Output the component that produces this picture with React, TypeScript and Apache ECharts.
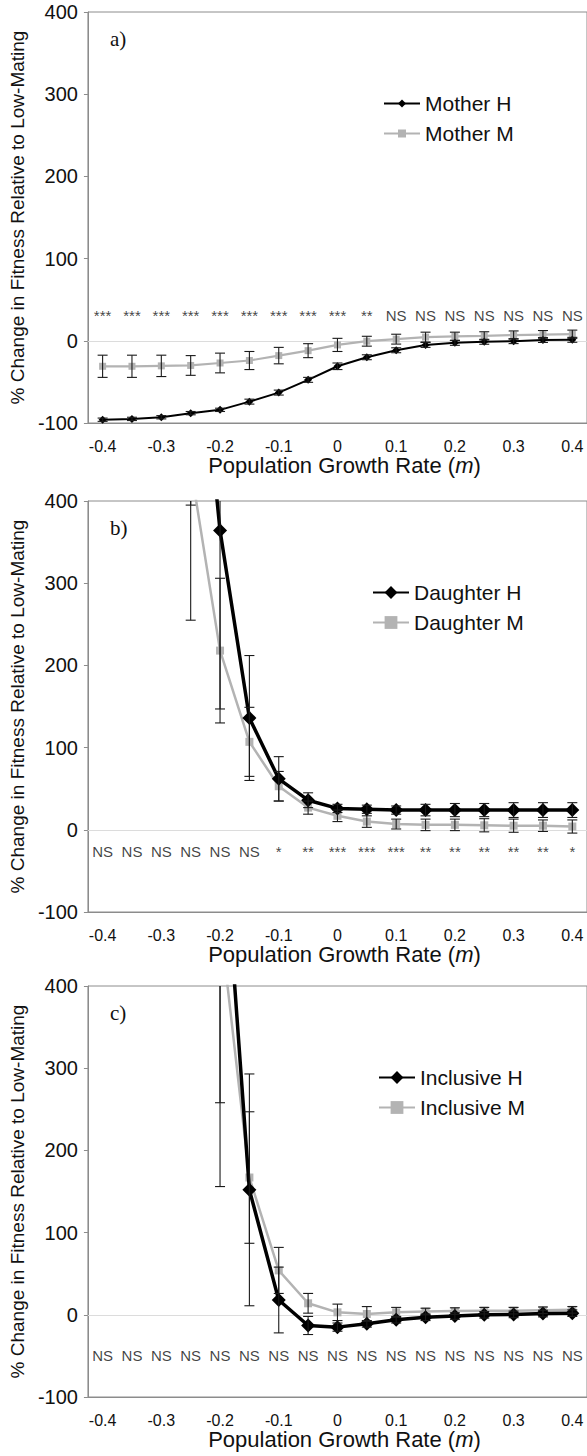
import React, { useEffect, useRef } from "react";
import * as echarts from "echarts";

const xCats = ["-0.4","-0.35","-0.3","-0.25","-0.2","-0.15","-0.1","-0.05","0","0.05","0.1","0.15","0.2","0.25","0.3","0.35","0.4"];

// Panel a) Mother
const motherH = [-96,-95,-93,-88,-84,-74,-63,-47.5,-31,-20,-11.5,-5,-2.5,-1.2,-0.4,1,1.2];
const motherHErr = [2,2,2,2,2,3,3,3,4,3,3,3,3,3,3,3,3];
const motherM = [-31,-31,-30.5,-30,-27,-24,-18,-12,-5,-0.5,2,4.5,5.5,6,7,7.5,8];
const motherMErr = [13.5,13.5,13,12,12,11,10,8.5,8,6,6,6,5,5,5,5,5];
const sigA = ["***","***","***","***","***","***","***","***","***","**","NS","NS","NS","NS","NS","NS","NS"];

// Panel b) Daughter
const daughterH = [null,null,null,724,364,136,62,36,26,25,24,24,24,24,24,24,24];
const daughterHErr = [null,null,null,329,217,76,27,9,5,5,5,7,8,8,9,9,9];
const daughterM = [null,null,null,442,218,107,53,27,17,10,7,6,6,5.5,5,5,4];
const daughterMErr = [null,null,null,187,88,42,18,8,7,7,6,7,7,8,8,7,8];
const sigB = ["NS","NS","NS","NS","NS","NS","*","**","***","***","***","**","**","**","**","**","*"];

// Panel c) Inclusive
const inclH = [null,null,null,null,648,152,18,-13,-15,-11,-6,-3,-1.5,0,0.5,1.5,2];
const inclHErr = [null,null,null,null,390,141,40,11,5,4,4,4,4,4,4,4,4];
const inclM = [null,null,null,null,480,167,54,14,3,1,3,4,4.5,5,5,5.5,6];
const inclMErr = [null,null,null,null,324,80,28,12,10,9,6,4,4,4,4,4,4];
const sigC = ["NS","NS","NS","NS","NS","NS","NS","NS","NS","NS","NS","NS","NS","NS","NS","NS","NS"];

const yTicks = { min: -100, max: 400, interval: 100 };

const FONT = "'Liberation Sans', Arial, sans-serif";
const BLACK = "#000000";
const GRAY = "#b3b3b3";

const panels = [
  { letter: "a)", top: 12, hName: "Mother H", mName: "Mother M", h: motherH, hErr: motherHErr, m: motherM, mErr: motherMErr, sig: sigA, sigY: 31, small: true, legLeft: 378 },
  { letter: "b)", top: 501, hName: "Daughter H", mName: "Daughter M", h: daughterH, hErr: daughterHErr, m: daughterM, mErr: daughterMErr, sig: sigB, sigY: -27, small: false, legLeft: 367 },
  { letter: "c)", top: 986, hName: "Inclusive H", mName: "Inclusive M", h: inclH, hErr: inclHErr, m: inclM, mErr: inclMErr, sig: sigC, sigY: -50, small: false, legLeft: 373 },
];

const PLOT_H = 411;

function errRender(params: any, api: any) {
  const x = api.value(0);
  const lo = api.value(1);
  const hi = api.value(2);
  const pLo = api.coord([x, lo]);
  const pHi = api.coord([x, hi]);
  const w = 5;
  const style = { stroke: "#1a1a1a", lineWidth: 1.1 };
  return {
    type: "group",
    children: [
      { type: "line", shape: { x1: pLo[0], y1: pLo[1], x2: pHi[0], y2: pHi[1] }, style },
      { type: "line", shape: { x1: pLo[0] - w, y1: pLo[1], x2: pLo[0] + w, y2: pLo[1] }, style },
      { type: "line", shape: { x1: pHi[0] - w, y1: pHi[1], x2: pHi[0] + w, y2: pHi[1] }, style },
    ],
  };
}

function errData(vals: (number | null)[], errs: (number | null)[]) {
  const out: any[] = [];
  vals.forEach((v, i) => {
    const e = errs[i];
    if (v !== null && e !== null) out.push([i, v - e, v + e]);
  });
  return out;
}

export default function App() {
  const ref = useRef<HTMLDivElement>(null);
  useEffect(() => {
    if (!ref.current) return;
    const chart = echarts.init(ref.current, undefined, { renderer: "svg" });
    const grid: any[] = [];
    const xAxis: any[] = [];
    const yAxis: any[] = [];
    const series: any[] = [];
    const legend: any[] = [];
    const title: any[] = [];

    panels.forEach((p, k) => {
      grid.push({ left: 84, top: p.top, width: 505, height: PLOT_H, show: true, borderColor: "#8c8c8c", borderWidth: 1, backgroundColor: "transparent" });
      xAxis.push({
        type: "category",
        gridIndex: k,
        data: xCats,
        boundaryGap: true,
        axisLine: { show: true, onZero: false, lineStyle: { color: "#8c8c8c", width: 1 } },
        axisTick: { show: false },
        axisLabel: { interval: 1, fontSize: 16, color: "#111", fontFamily: FONT, margin: 15 },
        splitLine: { show: false },
        name: "Population Growth Rate ({m|m})",
        nameLocation: "middle",
        nameGap: 26,
        nameTextStyle: { fontSize: 22, color: "#111", fontFamily: FONT, padding: [0, 0, 0, 14], rich: { m: { fontSize: 22, fontStyle: "italic", fontFamily: FONT, color: "#111" } } },
      });
      yAxis.push({
        type: "value",
        gridIndex: k,
        min: yTicks.min,
        max: yTicks.max,
        interval: yTicks.interval,
        axisLine: { show: true, lineStyle: { color: "#8c8c8c", width: 1 } },
        axisTick: { show: true, length: 4, lineStyle: { color: "#8c8c8c" } },
        axisLabel: { fontSize: 20, color: "#111", fontFamily: FONT, margin: 10 },
        splitLine: { show: false },
        name: "% Change in Fitness Relative to Low-Mating",
        nameLocation: "middle",
        nameGap: 55,
        nameTextStyle: { fontSize: 19, color: "#111", fontFamily: FONT },
      });
      const hSym = p.small ? 8 : 14;
      const mSym = p.small ? 7 : 8;
      const hW = p.small ? 2 : 3.5;
      const mW = p.small ? 2.2 : 2.5;
      series.push({
        name: p.hName,
        type: "line",
        xAxisIndex: k,
        yAxisIndex: k,
        data: p.h,
        symbol: "diamond",
        symbolSize: hSym,
        lineStyle: { color: BLACK, width: hW },
        itemStyle: { color: BLACK },
        clip: true,
        z: 3,
        markLine: {
          silent: true,
          symbol: "none",
          label: { show: false },
          lineStyle: { color: "#dcdcdc", width: 1.2, type: "solid" },
          data: [{ yAxis: 0 }],
          z: 1,
        },
      });
      series.push({
        name: p.mName,
        type: "line",
        xAxisIndex: k,
        yAxisIndex: k,
        data: p.m,
        symbol: "rect",
        symbolSize: mSym,
        lineStyle: { color: GRAY, width: mW },
        itemStyle: { color: GRAY },
        clip: true,
        z: 2,
      });
      series.push({
        type: "custom",
        xAxisIndex: k,
        yAxisIndex: k,
        renderItem: errRender,
        data: errData(p.m, p.mErr),
        clip: true,
        z: 4,
        silent: true,
      });
      series.push({
        type: "custom",
        xAxisIndex: k,
        yAxisIndex: k,
        renderItem: errRender,
        data: errData(p.h, p.hErr),
        clip: true,
        z: 4,
        silent: true,
      });
      series.push({
        type: "scatter",
        xAxisIndex: k,
        yAxisIndex: k,
        data: p.sig.map((s, i) => [i, p.sigY, s]),
        symbolSize: 1,
        itemStyle: { color: "rgba(0,0,0,0)" },
        label: { show: true, position: "inside", formatter: (q: any) => q.value[2], fontSize: 15, color: "#111111", fontFamily: FONT },
        silent: true,
        z: 5,
      });
      legend.push({
        data: [p.hName, p.mName],
        orient: "vertical",
        left: p.legLeft,
        top: p.top + 76,
        itemWidth: 36,
        itemHeight: p.small ? 10 : 16,
        itemGap: 9,
        textStyle: { fontSize: 21, color: "#111", fontFamily: FONT },
        selectedMode: false,
      });
      title.push({
        text: p.letter,
        left: 105,
        top: p.top + 11,
        textStyle: { fontFamily: "'Liberation Serif', 'Times New Roman', serif", fontSize: 21, fontWeight: "normal", color: "#111" },
      });
    });

    chart.setOption({
      animation: false,
      backgroundColor: "#ffffff",
      title,
      legend,
      grid,
      xAxis,
      yAxis,
      series,
    });
    return () => chart.dispose();
  }, []);
  return <div ref={ref} style={{ position: "absolute", left: 0, top: 0, width: 587, height: 1456, background: "#fff" }} />;
}
